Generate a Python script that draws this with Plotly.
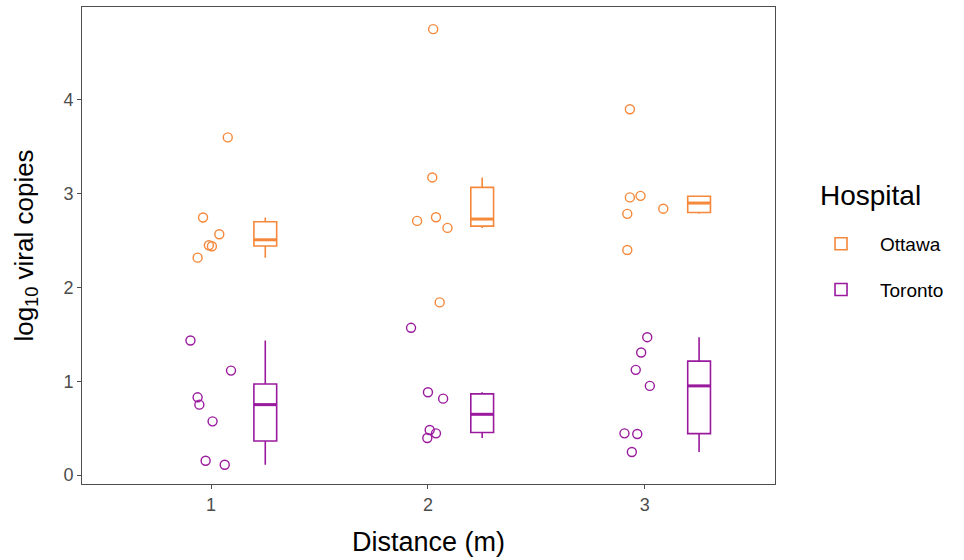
import numpy as np
import plotly.graph_objects as go

# ---- data ----
hospitals = ["Ottawa", "Toronto"]
distances = [1, 2, 3]
colors = {"Ottawa": "#F5883A", "Toronto": "#9A1A9E"}

# jittered x positions and log10 viral copies per hospital
ottawa_x = [1.077, 0.963, 1.038, 0.990, 1.004, 0.938,
            2.024, 2.020, 1.950, 2.037, 2.090, 2.054,
            2.931, 2.931, 2.980, 2.919, 3.085, 2.919]
ottawa_d = [1, 1, 1, 1, 1, 1,
            2, 2, 2, 2, 2, 2,
            3, 3, 3, 3, 3, 3]
ottawa_y = [3.60, 2.746, 2.567, 2.45, 2.44, 2.318,
            4.754, 3.173, 2.71, 2.749, 2.635, 1.841,
            3.90, 2.96, 2.977, 2.785, 2.84, 2.40]

toronto_x = [0.905, 1.092, 0.938, 0.946, 1.007, 0.975, 1.063,
             1.922, 2.000, 2.070, 2.008, 2.037, 1.997,
             3.011, 2.983, 2.958, 3.023, 2.906, 2.965, 2.940]
toronto_d = [1, 1, 1, 1, 1, 1, 1,
             2, 2, 2, 2, 2, 2,
             3, 3, 3, 3, 3, 3, 3]
toronto_y = [1.435, 1.114, 0.829, 0.751, 0.573, 0.153, 0.110,
             1.570, 0.883, 0.815, 0.481, 0.445, 0.395,
             1.470, 1.307, 1.122, 0.951, 0.445, 0.438, 0.246]

series = {
    "Ottawa": (ottawa_x, ottawa_d, ottawa_y),
    "Toronto": (toronto_x, toronto_d, toronto_y),
}

y_ticks = [0, 1, 2, 3, 4]
x_ticks = [1, 2, 3]

BOX_OFFSET = 0.25
BOX_WIDTH = 0.105


def box_stats(vals):
    v = np.sort(np.asarray(vals, dtype=float))
    q1, med, q3 = np.percentile(v, [25, 50, 75])
    iqr = q3 - q1
    lo = v[v >= q1 - 1.5 * iqr].min()
    hi = v[v <= q3 + 1.5 * iqr].max()
    return q1, med, q3, lo, hi


fig = go.Figure()

for h in hospitals:
    xs, ds, ys = series[h]
    c = colors[h]
    # jittered points
    fig.add_trace(go.Scatter(
        x=xs, y=ys, mode="markers", showlegend=False, hoverinfo="skip",
        marker=dict(symbol="circle-open", size=9, color=c, line=dict(width=1.4, color=c)),
    ))
    # boxplots
    stats = [box_stats([y for d2, y in zip(ds, ys) if d2 == d]) for d in distances]
    fig.add_trace(go.Box(
        name=h, legendgroup=h, showlegend=True,
        x=[d + BOX_OFFSET for d in distances],
        q1=[s[0] for s in stats], median=[s[1] for s in stats], q3=[s[2] for s in stats],
        lowerfence=[s[3] for s in stats], upperfence=[s[4] for s in stats],
        width=BOX_WIDTH, boxpoints=False,
        fillcolor="rgba(255,255,255,0)",
        line=dict(color=c, width=1.6),
        whiskerwidth=0,
    ))
    # thicker median segments (ggplot style)
    mx, my = [], []
    for d, s in zip(distances, stats):
        mx += [d + BOX_OFFSET - BOX_WIDTH / 2, d + BOX_OFFSET + BOX_WIDTH / 2, None]
        my += [s[1], s[1], None]
    fig.add_trace(go.Scatter(x=mx, y=my, mode="lines", showlegend=False, hoverinfo="skip",
                             line=dict(color=c, width=3)))

axis_common = dict(
    showline=True, linecolor="#4d4d4d", linewidth=1, mirror=True,
    ticks="outside", ticklen=4, tickcolor="#4d4d4d", tickwidth=1,
    showgrid=False, zeroline=False,
    tickfont=dict(family="Liberation Sans, Arial", size=18, color="#4d4d4d"),
)

fig.update_layout(
    width=964, height=560,
    margin=dict(l=82, r=189, t=7, b=76, autoexpand=False),
    paper_bgcolor="white", plot_bgcolor="white",
    font=dict(family="Liberation Sans, Arial", color="black"),
    xaxis=dict(range=[0.405, 3.60], tickvals=x_ticks, ticktext=[str(t) for t in x_ticks],
               title=dict(text="Distance (m)", font=dict(size=27, color="black"), standoff=18),
               automargin=False, **axis_common),
    yaxis=dict(range=[-0.095, 4.99], tickvals=y_ticks, ticktext=[str(t) for t in y_ticks],
               title=dict(text="log<sub>10</sub> viral copies", font=dict(size=26, color="black"), standoff=22),
               automargin=False, **axis_common),
    legend=dict(
        font=dict(size=19, color="black"),
        x=1.039, xanchor="left", y=0.455, yanchor="middle",
        itemwidth=68,
        tracegroupgap=18, traceorder="grouped",
        bgcolor="rgba(0,0,0,0)",
    ),
    annotations=[dict(
        text="Hospital", xref="paper", yref="paper", x=1.062, y=0.605,
        xanchor="left", yanchor="middle", showarrow=False,
        font=dict(size=28, color="black"),
    )],
)

fig.write_html(
    "out.html",
    config={"displayModeBar": False},
    post_script="document.body.style.margin='0';document.body.style.overflow='hidden';",
)
